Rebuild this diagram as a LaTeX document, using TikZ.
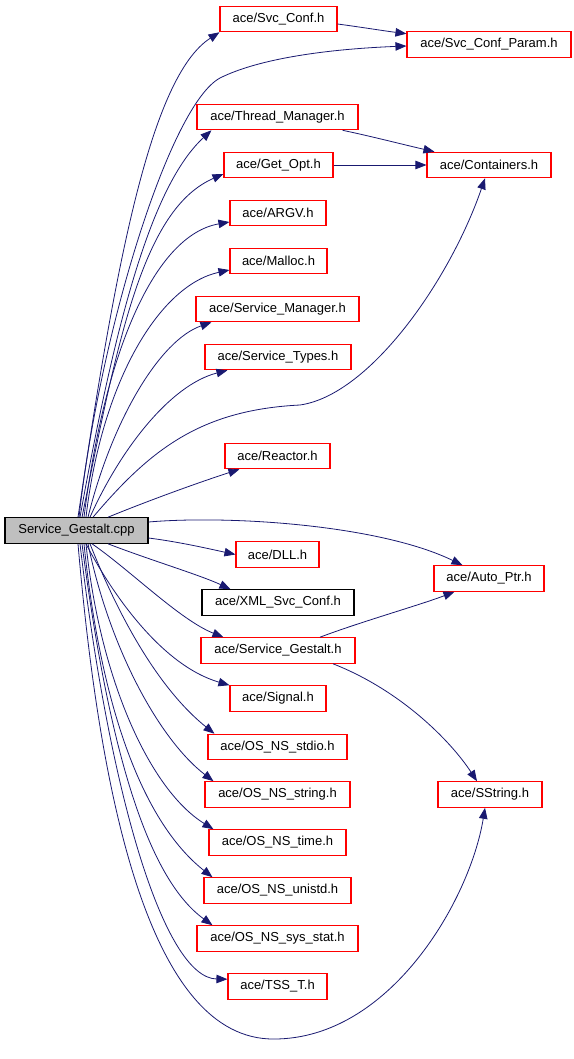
\documentclass[tikz,border=0pt]{standalone}
\usepackage{fontspec}
\setmainfont{Liberation Sans}
\usetikzlibrary{arrows.meta,calc}
\definecolor{edgeblue}{RGB}{25,25,112}
\definecolor{cppgray}{RGB}{191,191,191}
\tikzset{
  hbox/.style={draw=red, line width=1.1pt, minimum height=25.5pt, inner sep=0pt, font=\fontsize{13}{15}\selectfont},
  blackbox/.style={hbox, draw=black},
  rootbox/.style={hbox, draw=black, fill=cppgray},
  edge/.style={draw=edgeblue, line width=0.8pt, -{Triangle[length=11pt,width=8.5pt]}}
}
\begin{document}
\begin{tikzpicture}[x=1pt,y=-1pt]
\useasboundingbox (0,0) rectangle (573,1059);
% nodes
\node[hbox, minimum width=117pt] (svcconf) at (278.5,19) {ace/Svc\_Conf.h};
\node[hbox, minimum width=164pt] (param) at (489,44.5) {ace/Svc\_Conf\_Param.h};
\node[hbox, minimum width=161pt] (thread) at (277.5,117) {ace/Thread\_Manager.h};
\node[hbox, minimum width=124pt] (containers) at (489,165) {ace/Containers.h};
\node[hbox, minimum width=109pt] (getopt) at (278.5,165) {ace/Get\_Opt.h};
\node[hbox, minimum width=96pt] (argv) at (278,213) {ace/ARGV.h};
\node[hbox, minimum width=97pt] (malloc) at (278.5,261) {ace/Malloc.h};
\node[hbox, minimum width=163pt] (svcmgr) at (277.5,309) {ace/Service\_Manager.h};
\node[hbox, minimum width=146pt] (svctypes) at (278,357) {ace/Service\_Types.h};
\node[hbox, minimum width=105pt] (reactor) at (277.5,456) {ace/Reactor.h};
\node[rootbox, minimum width=143pt] (cpp) at (76.5,530.5) {Service\_Gestalt.cpp};
\node[hbox, minimum width=83pt] (dll) at (277.5,554.5) {ace/DLL.h};
\node[hbox, minimum width=110pt] (autoptr) at (489,578.5) {ace/Auto\_Ptr.h};
\node[blackbox, minimum width=152pt] (xml) at (278,602.5) {ace/XML\_Svc\_Conf.h};
\node[hbox, minimum width=154pt] (gestalt) at (278,650.5) {ace/Service\_Gestalt.h};
\node[hbox, minimum width=96pt] (signal) at (278,698.5) {ace/Signal.h};
\node[hbox, minimum width=139pt] (stdio) at (277.5,747) {ace/OS\_NS\_stdio.h};
\node[hbox, minimum width=145pt] (string) at (277.5,794.5) {ace/OS\_NS\_string.h};
\node[hbox, minimum width=104pt] (sstring) at (490,794.5) {ace/SString.h};
\node[hbox, minimum width=137pt] (time) at (277.5,842.5) {ace/OS\_NS\_time.h};
\node[hbox, minimum width=147pt] (unistd) at (277.5,890.5) {ace/OS\_NS\_unistd.h};
\node[hbox, minimum width=161pt] (sysstat) at (277.5,938.5) {ace/OS\_NS\_sys\_stat.h};
\node[hbox, minimum width=99pt] (tss) at (277.5,986.5) {ace/TSS\_T.h};
% edges upward from cpp
\draw[edge] ([xshift=1.5pt]cpp.north) .. controls (115,268) and (150,77) .. (svcconf.south west);
\draw[edge] ([xshift=2.5pt]cpp.north) .. controls (100,330) and (170,105) .. (220,78) .. controls (260,58) and (330,49) .. ([yshift=-1.5pt]param.west);
\draw[edge] ([xshift=3.5pt]cpp.north) .. controls (116,318) and (152,185) .. ([xshift=15pt]thread.south west);
\draw[edge] ([xshift=5.5pt]cpp.north) .. controls (118,338) and (143,209) .. ([yshift=-9pt]getopt.west);
\draw[edge] ([xshift=7.5pt]cpp.north) .. controls (105,350) and (155,235) .. ([yshift=-9pt]argv.west);
\draw[edge] ([xshift=9.5pt]cpp.north) .. controls (102,380) and (160,285) .. ([yshift=-9pt]malloc.west);
\draw[edge] ([xshift=11.5pt]cpp.north) .. controls (112,420) and (160,340) .. ([xshift=16pt]svcmgr.south west);
\draw[edge] ([xshift=13.5pt]cpp.north) .. controls (120,450) and (170,385) .. ([xshift=23pt]svctypes.south west);
\draw[edge] ([xshift=16.5pt]cpp.north) .. controls (150,450) and (200,410) .. (300,405) .. controls (370,395) and (450,280) .. ([xshift=-4pt]containers.south);
\draw[edge] ([xshift=31.5pt]cpp.north) .. controls (150,500) and (200,482) .. ([xshift=15pt]reactor.south west);
% edges right
\draw[edge] ([yshift=8.5pt]cpp.east) .. controls (230,515) and (380,525) .. ([xshift=29pt]autoptr.north west);
\draw[edge] ([yshift=-7.5pt]cpp.east) .. controls (180,542) and (210,549) .. (dll.west);
% edges downward from cpp
\draw[edge] ([xshift=31.5pt]cpp.south) .. controls (150,560) and (200,575) .. ([xshift=29pt]xml.north west);
\draw[edge] ([xshift=15.5pt]cpp.south) .. controls (130,570) and (180,620) .. ([xshift=23pt]gestalt.north west);
\draw[edge] ([xshift=9.5pt]cpp.south) .. controls (110,590) and (160,665) .. (signal.north west);
\draw[edge] ([xshift=13.5pt]cpp.south) .. controls (120,620) and (160,690) .. ([xshift=7pt]stdio.north west);
\draw[edge] ([xshift=11.5pt]cpp.south) .. controls (110,650) and (160,740) .. ([xshift=9pt]string.north west);
\draw[edge] ([xshift=9.5pt]cpp.south) .. controls (100,680) and (150,790) .. ([xshift=5pt]time.north west);
\draw[edge] ([xshift=7.5pt]cpp.south) .. controls (100,700) and (140,820) .. ([xshift=9pt]unistd.north west);
\draw[edge] ([xshift=5.5pt]cpp.south) .. controls (110,760) and (150,880) .. ([xshift=16pt]sysstat.north west);
\draw[edge] ([xshift=3.5pt]cpp.south) .. controls (110,800) and (165,978) .. ([yshift=-6pt]tss.north west);
\draw[edge] ([xshift=1.5pt]cpp.south) .. controls (100,800) and (150,1040) .. (274,1039) .. controls (390,1039) and (470,900) .. ([xshift=-5pt]sstring.south);
% edges between headers
\draw[edge] ([yshift=-5pt]svcconf.east) .. controls (360,27) and (385,31) .. ([yshift=-2.5pt]param.north west);
\draw[edge] ([xshift=-16pt]thread.south east) .. controls (370,136) and (405,145) .. ([xshift=8pt]containers.north west);
\draw[edge] (getopt.east) -- (containers.west);
\draw[edge] ([xshift=42pt]gestalt.north) .. controls (360,622) and (420,605) .. ([xshift=21pt]autoptr.south west);
\draw[edge] ([xshift=55pt]gestalt.south) .. controls (400,690) and (450,740) .. ([xshift=-13pt]sstring.north);
\end{tikzpicture}
\end{document}
